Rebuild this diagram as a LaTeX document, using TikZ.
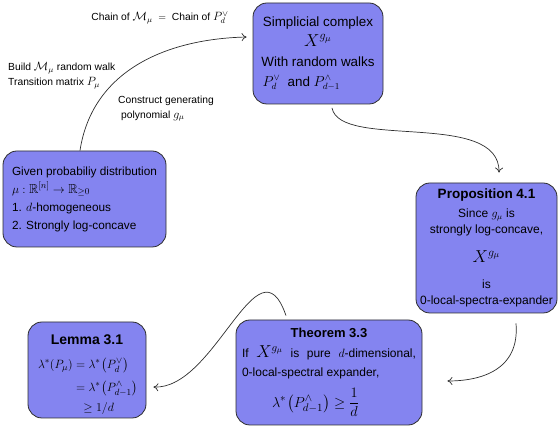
\documentclass[tikz,border=0pt]{standalone}
\usepackage{amsmath,amssymb}
\usepackage{fontspec}
\setmainfont{Liberation Sans}
\usetikzlibrary{arrows.meta,calc}
\definecolor{boxfill}{RGB}{132,132,240}
\definecolor{edge}{RGB}{45,45,45}
\begin{document}
\begin{tikzpicture}[x=1pt,y=-1pt,
  box/.style={draw=edge, line width=0.8pt, fill=boxfill, rounded corners=14pt, inner sep=0pt, align=center},
  conn/.style={draw=edge, line width=0.7pt, -{To[length=5pt,width=8pt]}},
  lbl/.style={inner sep=0pt, font=\fontsize{10.3}{15}\selectfont}]
\useasboundingbox (0,0) rectangle (560,427);

\node[box, minimum width=130pt, minimum height=101pt, font=\fontsize{13.4}{20}\selectfont] (top) at (318,53.5)
 {Simplicial complex\\
  {\fontsize{18}{18}\selectfont $X^{g_\mu}$}\\
  With random walks\\
  \makebox[111pt][l]{$P_d^{\vee}$\ \ and $P_{d-1}^{\wedge}$}};

\node[box, minimum width=163pt, minimum height=96pt, align=left, font=\fontsize{11.8}{18}\selectfont] (given) at (84.5,199)
 {Given probabiliy distribution\\
  {\fontsize{13}{13}\selectfont $\mu:\mathbb{R}^{[n]}\to\mathbb{R}_{\geq 0}$}\\
  1. $d$-homogeneous\\
  2. Strongly log-concave};

\node[box, minimum width=141pt, minimum height=130pt, font=\fontsize{12}{16.5}\selectfont] (prop) at (486.5,248)
 {{\bfseries\fontsize{13.5}{16}\selectfont Proposition 4.1}\\[2pt]
  Since $g_\mu$ is\\
  strongly log-concave,\\[12pt]
  {\fontsize{18}{18}\selectfont $X^{g_\mu}$}\\[10pt]
  is\\[-1pt]
  0-local-spectra-expander};

\node[box, minimum width=186pt, minimum height=105pt, font=\fontsize{12}{19}\selectfont] (thm) at (329,372.5)
 {{\bfseries\fontsize{13}{16}\selectfont Theorem 3.3}\\[1pt]
  \makebox[174pt][s]{If {\fontsize{16}{16}\selectfont$X^{g_\mu}$} is pure $d$-dimensional,}\\
  \makebox[174pt][l]{0-local-spectral expander,}\\[8pt]
  \makebox[174pt][l]{\hspace*{30pt}{\fontsize{15}{15}\selectfont $\lambda^{*}\mkern-2mu\left(P_{d-1}^{\wedge}\right)\geq\dfrac{1}{d}$}}};

\node[box, minimum width=118pt, minimum height=96pt, font=\fontsize{12.5}{22}\selectfont] (lem) at (87,370)
 {\rule{0pt}{19pt}{\bfseries\fontsize{14}{16}\selectfont Lemma 3.1}\\[2pt]
  \makebox[98pt][l]{$\lambda^{*}(P_\mu) = \lambda^{*}\mkern-2mu\left(P_d^{\vee}\right)$}\\[1pt]
  \makebox[98pt][l]{$\phantom{\lambda^{*}(P_\mu)} = \lambda^{*}\mkern-2mu\left(P_{d-1}^{\wedge}\right)$}\\[-2pt]
  \makebox[98pt][l]{$\phantom{\lambda^{*}(P_\mu)}\mkern11mu\geq 1/d$}};

\node[lbl] (chainlbl) at (160,18) {Chain of {\fontsize{11.5}{12}\selectfont$\mathcal{M}_\mu$}\ \ $=$\ \ Chain of {\fontsize{11.5}{12}\selectfont$P_d^{\vee}$}};
\node[lbl, anchor=west, align=left] (buildlbl) at (8,75.5) {Build {\fontsize{11.5}{12}\selectfont$\mathcal{M}_\mu$} random walk\\ Transition matrix {\fontsize{11.5}{12}\selectfont$P_\mu$}};
\node[lbl, anchor=west, align=left] (constlbl) at (118,108.5) {Construct generating\\ \hspace*{3pt}polynomial {\fontsize{11.5}{12}\selectfont$g_\mu$}};

\draw[conn] ($(given.north)+(-4.5,0)$) .. controls +(12,-79) and +(-82,2) .. ($(top.west)+(-6,-16.5)$);
\draw[conn] ($(top.south)+(14,3.5)$) .. controls +(8,42) and +(1,-63) .. ($(prop.north)+(12.5,-10)$);
\draw[conn] ($(prop.south)+(29.5,10)$) .. controls +(4,47) and +(33,0) .. ($(thm.east)+(25,8.5)$);
\draw[conn] ($(thm.north)+(-43,-4)$) .. controls +(-28,-81) and +(62,3) .. ($(lem.east)+(7,17)$);
\end{tikzpicture}
\end{document}
